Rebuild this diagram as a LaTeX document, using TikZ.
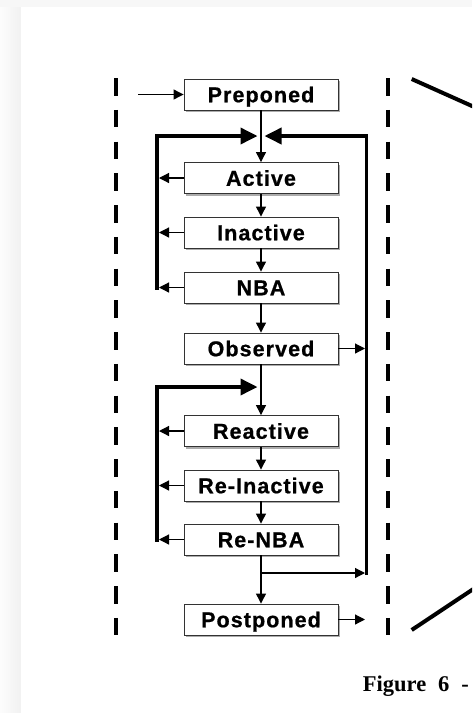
\documentclass[tikz,border=0pt]{standalone}
\usepackage{fontspec}
\setmainfont{Liberation Serif}
\newfontfamily\boxfont[LetterSpace=5,FakeBold=0.8]{Liberation Sans}
\usetikzlibrary{arrows.meta,shadows}
\begin{document}
\begin{tikzpicture}[x=1pt,y=-1pt,
  stage/.style={draw=black!80, line width=0.9pt, fill=white,
    minimum width=154pt, minimum height=31pt, inner sep=0pt,
    text height=15.5pt, text depth=0pt,
    font=\boxfont\bfseries\fontsize{21.5}{21.5}\selectfont,
    drop shadow={shadow xshift=2pt,shadow yshift=-2pt,fill=gray!65,opacity=1}},
  thinarr/.style={line width=1.2pt, -{Triangle[length=10pt,width=10pt]}},
  thickarr/.style={line width=3.6pt, line join=miter, -{Triangle[length=17pt,width=16pt]}},
  dashline/.style={line width=4pt, dash pattern=on 17.5pt off 14.25pt},
  slant/.style={line width=4pt}
]
\useasboundingbox (0,0) rectangle (472,713);
\clip (0,0) rectangle (472,713);
% page background
\fill[gray!6] (0,0) rectangle (472,713);
\shade[left color=gray!2, right color=gray!11] (0,7) rectangle (21,713);
\fill[white] (21,7) rectangle (472,713);

% dashed boundaries
\draw[dashline] (116,78) -- (116,635);
\draw[dashline] (388,78) -- (388,635);
% slanted lines
\draw[slant] (411.7,79) -- (520,127.5);
\draw[slant] (411.7,630) -- (520,558);

% stages
\node[stage] (pre)  at (261,94.5)  {Preponed};
\node[stage] (act)  at (261,178)   {Active};
\node[stage] (ina)  at (261,232.5) {Inactive};
\node[stage] (nba)  at (261,287.5) {NBA};
\node[stage] (obs)  at (261,348.5) {Observed};
\node[stage] (rea)  at (261,431)   {Reactive};
\node[stage] (rina) at (261,485.5) {Re-Inactive};
\node[stage] (rnba) at (261,539.5) {Re-NBA};
\node[stage] (post) at (261,619.5) {Postponed};

% helper coordinates
\coordinate (in)   at (138,94.5);
\coordinate (lt)   at (157,136);
\coordinate (lbot) at (157,289.5);
\coordinate (j1l)  at (257.5,136);
\coordinate (j1r)  at (264.5,136);
\coordinate (rt)   at (366.5,136);
\coordinate (rb)   at (366.5,575);
\coordinate (br)   at (261,573);
\coordinate (l2t)  at (157,387);
\coordinate (l2b)  at (157,541.5);
\coordinate (j2l)  at (257.5,387);
\coordinate (tipL) at (159,0);
\coordinate (tipR) at (365,0);

% input
\draw[thinarr] (in) -- (pre.west);
% main column
\draw[thinarr] (pre.south) -- (act.north);
\draw[thinarr] (act.south) -- (ina.north);
\draw[thinarr] (ina.south) -- (nba.north);
\draw[thinarr] (nba.south) -- (obs.north);
\draw[thinarr] (obs.south) -- (rea.north);
\draw[thinarr] (rea.south) -- (rina.north);
\draw[thinarr] (rina.south) -- (rnba.north);
\draw[thinarr] (rnba.south) -- (post.north);

% upper left loop
\draw[thickarr] (lbot) -- (lt) -- (j1l);
\draw[thinarr] (act.west) -- (act.west -| tipL);
\draw[thinarr] (ina.west) -- (ina.west -| tipL);
\draw[thinarr] (nba.west) -- (nba.west -| tipL);

% lower left loop
\draw[thickarr] (l2b) -- (l2t) -- (j2l);
\draw[thinarr] (rea.west) -- (rea.west -| tipL);
\draw[thinarr] (rina.west) -- (rina.west -| tipL);
\draw[thinarr] (rnba.west) -- (rnba.west -| tipL);

% right loop
\draw[thickarr] (rb) -- (rt) -- (j1r);
\draw[thinarr] (br) -- (br -| tipR);
\draw[thinarr] (obs.east) -- (obs.east -| tipR);
\draw[thinarr] (post.east) -- (post.east -| tipR);

% caption
\node[anchor=base west, inner sep=0pt, font=\bfseries\fontsize{22.5}{22.5}\selectfont] (cap) at (362.7,691) {Figure\hspace{12pt}6\hspace{12pt}-};
\end{tikzpicture}
\end{document}
